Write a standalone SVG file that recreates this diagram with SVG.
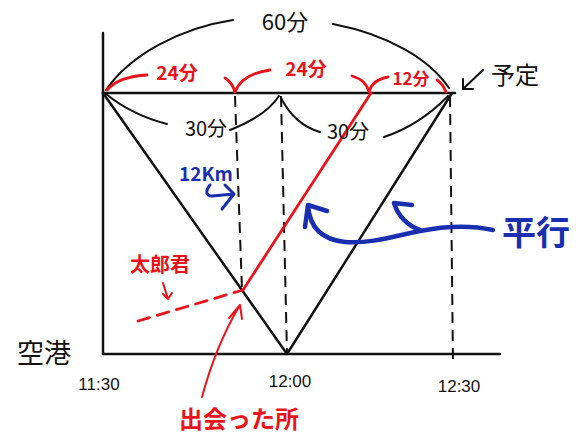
<svg xmlns="http://www.w3.org/2000/svg" width="576" height="446" viewBox="0 0 576 446">
<style>
.k{stroke:#111;stroke-width:2.5;fill:none;stroke-linecap:round;stroke-linejoin:round}
.ka{stroke:#111;stroke-width:2;fill:none;stroke-linecap:round}
.d{stroke:#111;stroke-width:2;fill:none;stroke-dasharray:11 7}
.r{stroke:#e8141b;stroke-width:2.8;fill:none;stroke-linecap:round;stroke-linejoin:round}
.rt{stroke:#e8141b;stroke-width:2;fill:none;stroke-linecap:round;stroke-linejoin:round}
.b{stroke:#1a2fb0;stroke-width:4.5;fill:none;stroke-linecap:round;stroke-linejoin:round}
.bt{stroke:#1a2fb0;stroke-width:3;fill:none;stroke-linecap:round;stroke-linejoin:round}
text{font-family:"Noto Sans CJK JP","Liberation Sans",sans-serif}
.tk{fill:#111}
.tn{fill:#111;font-family:"Liberation Sans",sans-serif}
.tr{fill:#e8141b;font-weight:bold}
.tb{fill:#1a2fb0;font-weight:bold}
</style>
<rect width="576" height="446" fill="#fff"/>
<g id="axes">
<line class="k" x1="103" y1="33" x2="103" y2="354"/>
<line class="k" x1="103" y1="354" x2="500" y2="354"/>
<line class="k" x1="103" y1="93" x2="455" y2="93"/>
</g>
<g id="guides">
<line class="d" x1="235" y1="96" x2="242" y2="290"/>
<line class="d" x1="281" y1="96" x2="287" y2="354"/>
<line class="d" x1="450" y1="96" x2="453" y2="364"/>
</g>
<g id="connectors">
<polyline class="k" points="103,93 287,354 452,93"/>
<line class="r" x1="243" y1="290" x2="371" y2="93"/>
<line class="r" x1="138" y1="321" x2="243" y2="290" stroke-dasharray="12 8"/>
<path class="rt" d="M163,283 L168,299 M163,294 L168,299 L172,293"/>
<path class="rt" d="M202,397 C212,360 225,330 240,305 M229,318 L240,305 L242,319"/>
<path class="b" d="M493,230 C470,225 445,226 420,231 C395,236 370,244 345,242 C325,240 310,230 308,206"/>
<path class="b" d="M305,227 L308,205 L327,211"/>
<path class="b" d="M420,230 C408,226 398,216 394,203 L412,205"/>
<path class="bt" d="M210,185 C205,191 206,196 212,196 L234,194 M225,185 L234,194 L222,209"/>
<path class="ka" d="M483,70 L463,89 M463,79 L463,89 L473,89"/>
</g>
<g id="arcs">
<path class="ka" d="M106,90 C130,55 180,28 233,20"/>
<path class="ka" d="M333,24 C390,35 430,60 449,88"/>
<path class="r" d="M107,90 C114,82 128,76 147,75"/>
<path class="r" d="M225,78 Q232,82 235,92 Q242,74 270,70"/>
<path class="r" d="M352,76 Q366,80 369,92 Q372,80 388,77"/>
<path class="r" d="M437,80 Q443,84 446,92"/>
<path class="ka" d="M106,94 Q132,115 167,124"/>
<path class="ka" d="M230,130 Q266,116 279,96"/>
<path class="ka" d="M281,98 Q295,125 320,132"/>
<path class="ka" d="M384,137 Q420,125 448,96"/>
</g>
<g id="labels">
<text class="tk" x="285" y="30" font-size="22" text-anchor="middle">60分</text>
<text class="tr" x="177" y="80" font-size="19" text-anchor="middle">24分</text>
<text class="tr" x="306" y="76" font-size="19" text-anchor="middle">24分</text>
<text class="tr" x="411" y="85" font-size="17" text-anchor="middle">12分</text>
<text class="tk" x="206" y="136" font-size="20" text-anchor="middle">30分</text>
<text class="tk" x="348" y="139" font-size="20" text-anchor="middle">30分</text>
<text class="tk" x="515" y="84" font-size="24" text-anchor="middle">予定</text>
<text class="tb" x="206" y="181" font-size="19" text-anchor="middle">12Km</text>
<text class="tb" x="536" y="245" font-size="34" text-anchor="middle">平行</text>
<text class="tr" x="160" y="272" font-size="20" text-anchor="middle">太郎君</text>
<text class="tk" x="44" y="363" font-size="27" text-anchor="middle">空港</text>
<text class="tn" x="99" y="390" font-size="17" text-anchor="middle">11:30</text>
<text class="tn" x="290" y="387" font-size="17" text-anchor="middle">12:00</text>
<text class="tn" x="459" y="392" font-size="17" text-anchor="middle">12:30</text>
<text class="tr" x="239" y="428" font-size="24" text-anchor="middle">出会った所</text>
</g>
</svg>
